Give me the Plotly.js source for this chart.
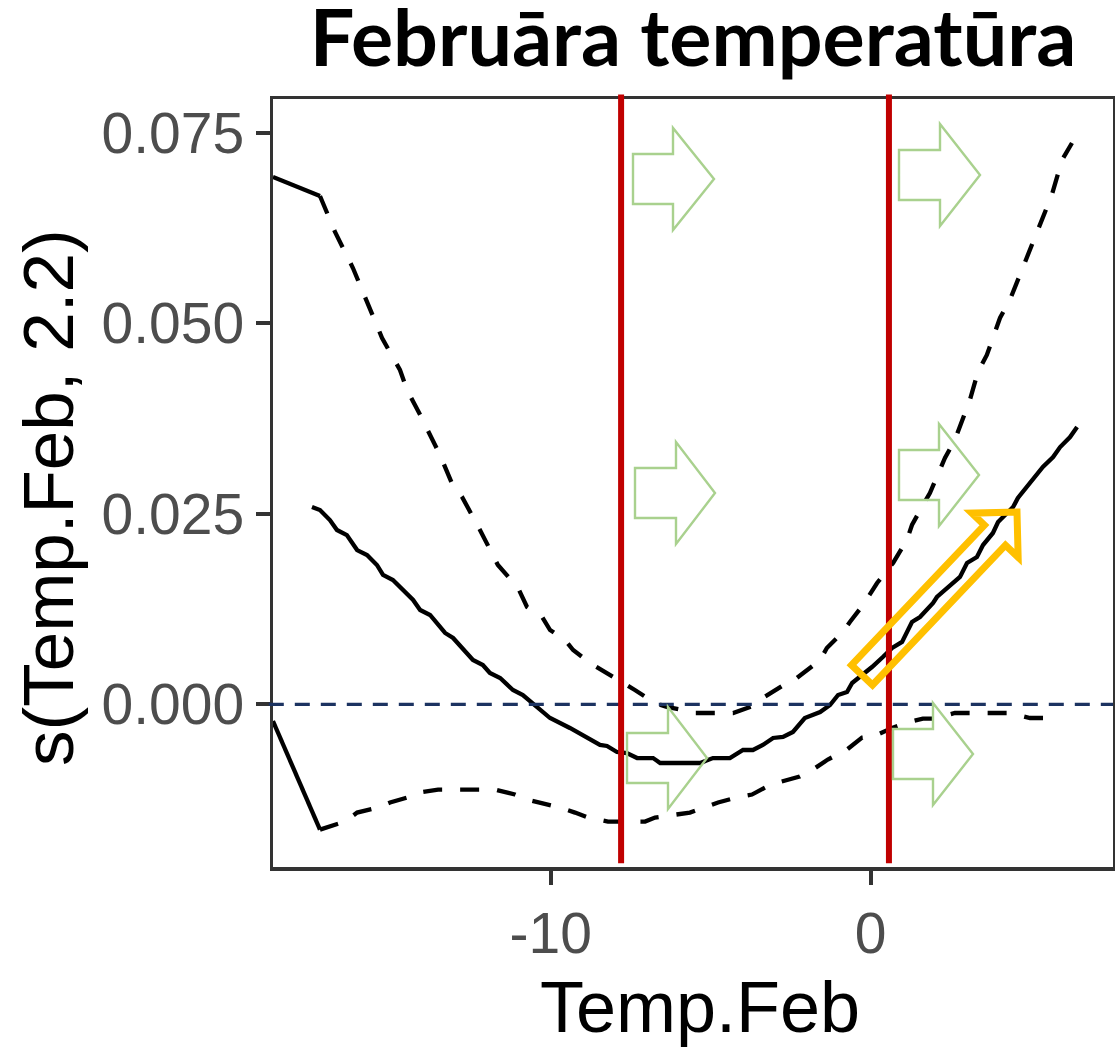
<!DOCTYPE html>
<html>
<head>
<meta charset="utf-8">
<script src="https://cdn.plot.ly/plotly-3.0.1.min.js"></script>
<style>
  html, body { margin: 0; padding: 0; background: #ffffff; }
  #chart { width: 1115px; height: 1048px; }
</style>
</head>
<body>
<div id="chart"></div>
<script>
// Smooth term s(Temp.Feb, 2.2): fitted curve
const fitX = [-17.46, -17.21, -16.90, -16.68, -16.37, -16.05, -15.74, -15.43, -15.24, -14.93,
  -14.30, -14.08, -13.77, -13.46, -13.30, -13.05, -12.43, -12.12, -11.90, -11.58,
  -11.18, -10.87, -10.43, -10.02, -9.40, -8.77, -8.46, -8.24, -7.93, -7.62,
  -7.30, -6.80, -6.58, -5.33, -4.93, -4.40, -3.99, -3.68, -3.37, -3.05,
  -2.74, -2.43, -2.06, -1.58, -1.27, -1.02, -0.74, -0.58, -0.24, 0.04,
  0.38, 0.67, 0.98, 1.29, 1.54, 1.95, 2.07, 2.48, 2.79, 3.01,
  3.32, 3.51, 3.82, 3.98, 4.45, 4.60, 5.13, 5.38, 5.70, 5.92, 6.23, 6.45];
const fitY = [0.02589, 0.02549, 0.02418, 0.02287, 0.02221, 0.02024, 0.01959, 0.01828, 0.01697, 0.01631,
  0.01369, 0.01238, 0.01172, 0.01014, 0.00936, 0.00870, 0.00581, 0.00516, 0.00411, 0.00345,
  0.00188, 0.00122, -0.00035, -0.00180, -0.00311, -0.00469, -0.00534, -0.00547, -0.00626, -0.00639,
  -0.00705, -0.00705, -0.00770, -0.00770, -0.00705, -0.00705, -0.00600, -0.00600, -0.00534, -0.00442,
  -0.00429, -0.00363, -0.00180, -0.00102, -0.00009, 0.00122, 0.00162, 0.00280, 0.00385, 0.00489,
  0.00621, 0.00739, 0.00818, 0.01080, 0.01146, 0.01330, 0.01408, 0.01566, 0.01671, 0.01855,
  0.01933, 0.02090, 0.02248, 0.02392, 0.02589, 0.02707, 0.02970, 0.03114, 0.03245, 0.03376, 0.03507, 0.03639];

// Upper confidence band
const upperX = [-17.21, -16.74, -16.18, -15.71, -15.27, -14.71, -14.49, -14.08, -13.46, -13.08,
  -12.77, -12.21, -11.90, -11.65, -11.02, -10.74, -10.27, -10.02, -9.55, -9.30,
  -8.77, -8.24, -7.68, -7.37, -6.74, -6.37, -5.87, -5.49, -4.30, -3.68,
  -3.37, -2.77, -2.47, -1.58, -1.37, -0.87, -0.65, -0.24, 0.20, 0.70,
  1.13, 1.29, 1.60, 1.85, 2.32, 2.63, 3.10, 3.35, 3.63, 3.95,
  4.04, 4.35, 4.82, 5.23, 5.66, 5.98, 6.29];
const upperY = [0.06670, 0.06198, 0.05725, 0.05266, 0.04807, 0.04387, 0.04125, 0.03797, 0.03272, 0.02892,
  0.02721, 0.02288, 0.02025, 0.01828, 0.01526, 0.01277, 0.01146, 0.00975, 0.00844, 0.00713,
  0.00542, 0.00411, 0.00280, 0.00188, 0.00017, -0.00035, -0.00075, -0.00114, -0.00114, -0.00022,
  0.00083, 0.00240, 0.00293, 0.00581, 0.00739, 0.00949, 0.01080, 0.01303, 0.01592, 0.01855,
  0.02156, 0.02353, 0.02589, 0.02773, 0.03232, 0.03468, 0.03993, 0.04360, 0.04584, 0.04951,
  0.05070, 0.05306, 0.05792, 0.06225, 0.06684, 0.07143, 0.07366];

// Lower confidence band
const lowerX = [-17.21, -16.43, -16.05, -15.40, -15.02, -14.49, -14.15, -13.52, -11.74, -11.12,
  -10.74, -10.12, -9.71, -9.24, -8.83, -8.21, -7.05, -6.74, -6.02, -5.65,
  -5.12, -4.77, -4.09, -3.71, -3.24, -2.90, -2.22, -1.81, -1.34, -0.74,
  -0.27, 0.07, 0.69, 1.13, 1.63, 1.95, 2.63, 4.35, 4.98, 5.54];
const lowerY = [-0.01644, -0.01539, -0.01421, -0.01355, -0.01289, -0.01224, -0.01158, -0.01119, -0.01119, -0.01184,
  -0.01250, -0.01316, -0.01355, -0.01421, -0.01486, -0.01539, -0.01539, -0.01486, -0.01447, -0.01421,
  -0.01342, -0.01289, -0.01211, -0.01184, -0.01080, -0.01027, -0.00948, -0.00857, -0.00725, -0.00594,
  -0.00437, -0.00424, -0.00306, -0.00240, -0.00188, -0.00188, -0.00114, -0.00114, -0.00180, -0.00180];

// Solid pieces of the bands at the left edge
const upperEdgeX = [-18.68, -17.21];
const upperEdgeY = [0.06920, 0.06670];
const lowerEdgeX = [-18.68, -17.21];
const lowerEdgeY = [-0.00220, -0.01644];

// Reference lines and axis ticks
const markerTemps = [-7.80, 0.57];
const xTickVals = [-10, 0];
const xTickText = ['-10', '0'];
const yTickVals = [0, 0.025, 0.05, 0.075];
const yTickText = ['0.000', '0.025', '0.050', '0.075'];

const M = { l: 273, r: 2, t: 99, b: 181 };
const FIG_W = 1115, FIG_H = 1048;
const PW = FIG_W - M.l - M.r, PH = FIG_H - M.t - M.b;

// figure pixel -> paper fraction
function toPaper(px, py) {
  return [(px - M.l) / PW, (M.t + PH - py) / PH];
}
function pathFrom(points) {
  return points.map((p, i) => {
    const q = toPaper(p[0], p[1]);
    return (i ? 'L' : 'M') + q[0].toFixed(5) + ',' + q[1].toFixed(5);
  }).join(' ') + ' Z';
}
// right-pointing block arrow outline
function blockArrow(left, neck, tip, cy, bodyHalf, headHalf) {
  return pathFrom([
    [left, cy - bodyHalf], [neck, cy - bodyHalf], [neck, cy - headHalf], [tip, cy],
    [neck, cy + headHalf], [neck, cy + bodyHalf], [left, cy + bodyHalf]
  ]);
}
// block arrow along any direction
function tiltedArrow(tail, tip, bodyHalf, headHalf, headLen) {
  const dx = tip[0] - tail[0], dy = tip[1] - tail[1];
  const len = Math.hypot(dx, dy);
  const ux = dx / len, uy = dy / len, nx = -uy, ny = ux;
  const bx = tip[0] - ux * headLen, by = tip[1] - uy * headLen;
  return pathFrom([
    [tail[0] + nx * bodyHalf, tail[1] + ny * bodyHalf],
    [bx + nx * bodyHalf, by + ny * bodyHalf],
    [bx + nx * headHalf, by + ny * headHalf],
    tip,
    [bx - nx * headHalf, by - ny * headHalf],
    [bx - nx * bodyHalf, by - ny * bodyHalf],
    [tail[0] - nx * bodyHalf, tail[1] - ny * bodyHalf]
  ]);
}

const green = { color: '#a9d18e', width: 2.4 };
const greenArrows = [
  [633, 673, 714, 179],
  [899, 940, 980, 175],
  [635, 676, 715, 493],
  [899, 939, 979, 475],
  [627, 668, 707, 758],
  [893, 933, 973, 754]
].map(a => ({
  type: 'path', xref: 'paper', yref: 'paper', layer: 'above',
  path: blockArrow(a[0], a[1], a[2], a[3], 25, 51),
  line: green, fillcolor: 'rgba(0,0,0,0)'
}));

const shapes = [
  {
    type: 'line', xref: 'paper', yref: 'y', x0: -0.005, x1: 1, y0: 0, y1: 0,
    line: { color: '#1c3361', width: 3.2, dash: '15px,11px' }, layer: 'above'
  },
  ...markerTemps.map(t => ({
    type: 'line', xref: 'x', yref: 'paper', x0: t, x1: t, y0: 0.005, y1: 1.006,
    line: { color: '#c00000', width: 6 }, layer: 'above'
  })),
  ...greenArrows,
  {
    type: 'path', xref: 'paper', yref: 'paper', layer: 'above',
    path: tiltedArrow([862, 675], [1017, 512], 14.5, 32, 32),
    line: { color: '#ffc000', width: 7 }, fillcolor: 'rgba(0,0,0,0)'
  }
];

const lineW = 4.3;
const bandDash = '19px,18px';
const traces = [
  { x: fitX, y: fitY, mode: 'lines', line: { color: '#000000', width: lineW }, hoverinfo: 'skip' },
  { x: upperX, y: upperY, mode: 'lines', line: { color: '#000000', width: lineW, dash: bandDash }, hoverinfo: 'skip' },
  { x: lowerX, y: lowerY, mode: 'lines', line: { color: '#000000', width: lineW, dash: bandDash }, hoverinfo: 'skip' },
  { x: upperEdgeX, y: upperEdgeY, mode: 'lines', line: { color: '#000000', width: lineW }, hoverinfo: 'skip' },
  { x: lowerEdgeX, y: lowerEdgeY, mode: 'lines', line: { color: '#000000', width: lineW }, hoverinfo: 'skip' }
];

const sans = 'Liberation Sans, Arial, sans-serif';
const axisCommon = {
  showgrid: false, zeroline: false,
  showline: true, mirror: true, linecolor: '#333333', linewidth: 3.5,
  ticks: 'outside', ticklen: 14, tickwidth: 4, tickcolor: '#333333',
  tickfont: { family: sans, size: 57, color: '#4d4d4d' },
  fixedrange: true
};

const xTitlePos = toPaper(700, 1007);
const yTitlePos = toPaper(48, 498);

const layout = {
  width: FIG_W, height: FIG_H,
  margin: M,
  paper_bgcolor: '#ffffff', plot_bgcolor: '#ffffff',
  showlegend: false,
  title: {
    text: 'Februāra temperatūra',
    font: { family: 'Lato, sans-serif', size: 79, weight: 700, color: '#000000' },
    x: 0.5, xref: 'paper', xanchor: 'center',
    y: 0.9635, yref: 'container', yanchor: 'middle'
  },
  xaxis: Object.assign({}, axisCommon, {
    range: [-18.678, 7.572],
    tickmode: 'array', tickvals: xTickVals, ticktext: xTickText
  }),
  yaxis: Object.assign({}, axisCommon, {
    range: [-0.02135, 0.07943],
    tickmode: 'array', tickvals: yTickVals, ticktext: yTickText
  }),
  annotations: [
    {
      text: 'Temp.Feb', xref: 'paper', yref: 'paper',
      x: xTitlePos[0], y: xTitlePos[1], xanchor: 'center', yanchor: 'middle',
      showarrow: false, font: { family: sans, size: 72, color: '#000000' }
    },
    {
      text: 's(Temp.Feb, 2.2)', xref: 'paper', yref: 'paper', textangle: -90,
      x: yTitlePos[0], y: yTitlePos[1], xanchor: 'center', yanchor: 'middle',
      showarrow: false, font: { family: sans, size: 71, color: '#000000' }
    }
  ],
  shapes: shapes
};

Plotly.newPlot('chart', traces, layout, { displayModeBar: false, staticPlot: true });
</script>
</body>
</html>
